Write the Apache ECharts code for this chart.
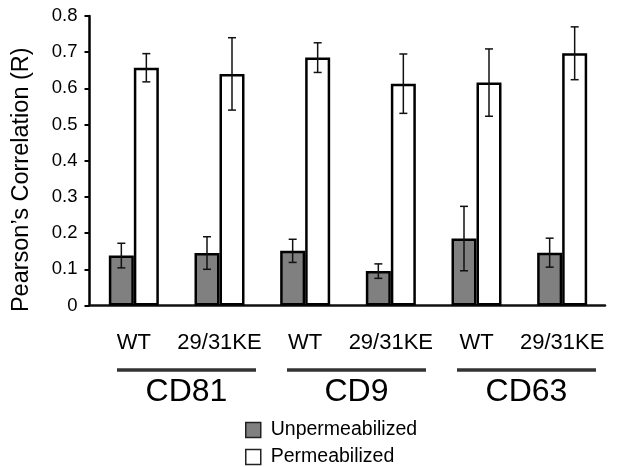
<!DOCTYPE html>
<html>
<head>
<meta charset="utf-8">
<script src="https://cdn.jsdelivr.net/npm/echarts@6/dist/echarts.min.js"></script>
<style>
html,body{margin:0;padding:0;background:#fff;}
#chart{width:638px;height:467px;}
</style>
</head>
<body>
<div id="chart"></div>
<script>
// ---- data ----
var categories = ['WT', '29/31KE', 'WT', '29/31KE', 'WT', '29/31KE'];
var groups = ['CD81', 'CD9', 'CD63'];
var seriesNames = ['Unpermeabilized', 'Permeabilized'];
var unpermeabilized = [0.138, 0.145, 0.151, 0.095, 0.185, 0.146];
var unpermeabilizedErr = [0.034, 0.045, 0.032, 0.020, 0.089, 0.040];
var permeabilized = [0.657, 0.640, 0.685, 0.613, 0.616, 0.697];
var permeabilizedErr = [0.039, 0.100, 0.041, 0.082, 0.093, 0.073];
var yTicks = [0, 0.1, 0.2, 0.3, 0.4, 0.5, 0.6, 0.7, 0.8];

var FONT = 'Liberation Sans, Arial, sans-serif';
var BAR_W = 25;

function errData(vals, errs) {
  return vals.map(function (v, i) { return [i, v, errs[i]]; });
}
function errRender(sign) {
  return function (params, api) {
    var x = api.value(0), y = api.value(1), e = api.value(2);
    var hi = api.coord([x, y + e]);
    var lo = api.coord([x, y - e]);
    var cx = hi[0] + sign * BAR_W / 2;
    var cap = 4;
    var st = { stroke: '#111', lineWidth: 1.5 };
    return {
      type: 'group',
      children: [
        { type: 'line', shape: { x1: cx, y1: hi[1], x2: cx, y2: lo[1] }, style: st },
        { type: 'line', shape: { x1: cx - cap, y1: hi[1], x2: cx + cap, y2: hi[1] }, style: st },
        { type: 'line', shape: { x1: cx - cap, y1: lo[1], x2: cx + cap, y2: lo[1] }, style: st }
      ]
    };
  };
}

function legendFor(name, top) {
  return {
    orient: 'vertical',
    left: 245,
    top: top,
    itemWidth: 15,
    itemHeight: 15,
    padding: 0,
    icon: 'rect',
    itemStyle: { borderWidth: 1.5, borderColor: '#222' },
    textStyle: { fontSize: 19.5, color: '#000', fontFamily: FONT, padding: [0, 0, 0, 5] },
    data: [name]
  };
}

var chart = echarts.init(document.getElementById('chart'), null, { renderer: 'canvas' });
var option = {
  animation: false,
  backgroundColor: '#fff',
  textStyle: { fontFamily: FONT },
  grid: [
    { left: 91, right: 33, top: 16, bottom: 161.5 },
    { left: 101.5, right: 26.5, top: 16, bottom: 161.5 }
  ],
  legend: [legendFor(seriesNames[0], 420), legendFor(seriesNames[1], 447)],
  xAxis: [
    {
      type: 'category',
      gridIndex: 0,
      data: categories,
      axisLine: { show: true, lineStyle: { color: '#111', width: 2.5 } },
      axisTick: { show: false },
      axisLabel: { fontSize: 22, color: '#000', margin: 26, fontFamily: FONT, interval: 0 }
    },
    {
      type: 'category',
      gridIndex: 1,
      data: groups,
      axisLine: { show: false },
      axisTick: { show: false },
      axisLabel: { fontSize: 32, color: '#000', margin: 71, fontFamily: FONT, interval: 0 }
    }
  ],
  yAxis: [
    {
      type: 'value',
      gridIndex: 0,
      min: 0,
      max: 0.8,
      interval: 0.1,
      offset: 1.5,
      name: 'Pearson\u2019s Correlation (R)',
      nameLocation: 'middle',
      nameGap: 56,
      nameTextStyle: { fontSize: 23.5, color: '#000', fontFamily: FONT, padding: [0, 38, 0, 0] },
      axisLine: { show: true, lineStyle: { color: '#000', width: 2.5 } },
      axisTick: { show: true, length: 5, inside: false, lineStyle: { color: '#000', width: 2 } },
      splitLine: { show: false },
      axisLabel: {
        fontSize: 18.5, color: '#000', margin: 12, fontFamily: FONT,
        formatter: function (v) {
          var t = yTicks.find(function (k) { return Math.abs(k - v) < 1e-9; });
          return t === 0 ? '0' : t.toFixed(1);
        }
      }
    },
    { type: 'value', gridIndex: 1, show: false, min: 0, max: 0.8 }
  ],
  series: [
    {
      name: seriesNames[0],
      type: 'bar',
      xAxisIndex: 0, yAxisIndex: 0,
      barWidth: BAR_W,
      barGap: '0%',
      data: unpermeabilized,
      itemStyle: { color: '#808080', borderColor: '#000', borderWidth: 2.5 },
      z: 2
    },
    {
      name: seriesNames[1],
      type: 'bar',
      xAxisIndex: 0, yAxisIndex: 0,
      barWidth: BAR_W,
      barGap: '0%',
      data: permeabilized,
      itemStyle: { color: '#ffffff', borderColor: '#000', borderWidth: 2.5 },
      z: 2
    },
    {
      type: 'custom',
      xAxisIndex: 0, yAxisIndex: 0,
      renderItem: errRender(-1),
      data: errData(unpermeabilized, unpermeabilizedErr),
      encode: { x: 0, y: 1 },
      z: 5,
      silent: true
    },
    {
      type: 'custom',
      xAxisIndex: 0, yAxisIndex: 0,
      renderItem: errRender(1),
      data: errData(permeabilized, permeabilizedErr),
      encode: { x: 0, y: 1 },
      z: 5,
      silent: true
    }
  ]
};
chart.setOption(option);

// group underlines, placed from the group axis
var lines = groups.map(function (g) {
  var cx = chart.convertToPixel({ xAxisIndex: 1 }, g);
  return {
    type: 'line',
    shape: { x1: cx - 69.5, y1: 370, x2: cx + 69.5, y2: 370 },
    style: { stroke: '#333', lineWidth: 3.5 },
    silent: true
  };
});
chart.setOption({ graphic: lines });
</script>
</body>
</html>
